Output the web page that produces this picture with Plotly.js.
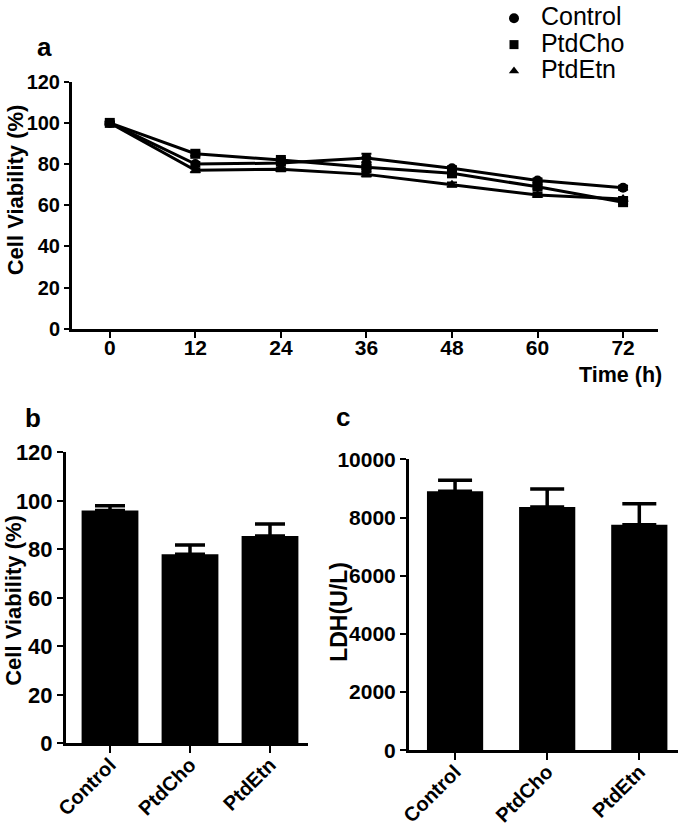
<!DOCTYPE html>
<html><head><meta charset="utf-8">
<script src="https://cdn.plot.ly/plotly-3.0.1.min.js"></script>
<style>body{margin:0;background:#fff}#chart{width:685px;height:830px}</style>
</head><body><div id="chart"></div>
<script>
// Panel a: time course
const timeHours = [0, 12, 24, 36, 48, 60, 72];
const controlViability = [100, 80, 80.5, 83, 78, 72, 68.5];
const controlErr = [0.5, 1, 1, 2, 1, 1, 1];
const ptdChoViability = [100, 85, 82, 78.5, 75.5, 69, 61.5];
const ptdChoErr = [0.5, 1, 1, 1, 1, 1, 1];
const ptdEtnViability = [100, 77, 77.5, 75, 70, 65, 63];
const ptdEtnErr = [0.5, 1, 1, 1, 1, 1, 1];
const seriesNames = ['Control', 'PtdCho', 'PtdEtn'];
const seriesSymbols = ['circle', 'square', 'triangle-up'];

// Panel b and c: bar charts
const groups = ['Control', 'PtdCho', 'PtdEtn'];
const viabilityMean = [96, 78, 85.5];
const viabilityErr = [2, 3.8, 5];
const ldhMean = [8900, 8360, 7750];
const ldhErr = [380, 620, 720];
const xTicksA = [0, 12, 24, 36, 48, 60, 72];

const FONT = 'Liberation Sans, Arial, sans-serif';
const black = '#000';
const ys = [controlViability, ptdChoViability, ptdEtnViability];
const es = [controlErr, ptdChoErr, ptdEtnErr];

const traces = [];
for (let i = 0; i < 3; i++) {
  traces.push({
    x: timeHours, y: ys[i], type: 'scatter', mode: 'lines+markers',
    line: {color: black, width: 3}, marker: {symbol: seriesSymbols[i], size: 10, color: black},
    error_y: {type: 'data', array: es[i], visible: true, color: black, thickness: 2, width: 5},
    showlegend: false, xaxis: 'x', yaxis: 'y', cliponaxis: false
  });
}
for (let i = 0; i < 3; i++) {
  traces.push({
    x: [null], y: [null], type: 'scatter', mode: 'markers',
    name: '<span style="font-size:25px">\u00a0' + seriesNames[i] + '</span>',
    marker: {symbol: seriesSymbols[i], size: i === 0 ? 10 : 9, color: black},
    xaxis: 'x', yaxis: 'y', showlegend: true
  });
}
traces.push({
  x: groups, y: viabilityMean, type: 'bar', marker: {color: black},
  width: 0.71,
  error_y: {type: 'data', symmetric: false, array: viabilityErr, arrayminus: [0, 0, 0], color: black, thickness: 3.5, width: 15},
  xaxis: 'x2', yaxis: 'y2', showlegend: false
});
traces.push({
  x: groups, y: ldhMean, type: 'bar', marker: {color: black},
  width: 0.61,
  error_y: {type: 'data', symmetric: false, array: ldhErr, arrayminus: [0, 0, 0], color: black, thickness: 3.5, width: 17},
  xaxis: 'x3', yaxis: 'y3', showlegend: false
});

const tf = s => ({family: FONT, size: s, color: black, weight: 'bold'});
const axBase = {showline: true, linecolor: black, linewidth: 3, ticks: 'outside', ticklen: 6, tickwidth: 2, tickcolor: black,
  showgrid: false, zeroline: false, fixedrange: true};

const W = 685, H = 830;
const px = v => v / W, py = v => 1 - v / H;
const ann = (text, x, y, font, extra) => Object.assign({text: text, x: px(x), y: py(y), xref: 'paper', yref: 'paper',
  xanchor: 'center', yanchor: 'middle', showarrow: false, font: font}, extra || {});

const layout = {
  width: W, height: H, margin: {l: 0, r: 0, t: 0, b: 0}, paper_bgcolor: '#fff', plot_bgcolor: 'rgba(0,0,0,0)',
  font: {family: FONT, color: black},
  showlegend: true,
  legend: {x: px(494), y: py(-3), xanchor: 'left', yanchor: 'top', font: {family: FONT, size: 18, color: black},
    bgcolor: 'rgba(0,0,0,0)', tracegroupgap: 0, itemwidth: 30},
  xaxis: Object.assign({}, axBase, {domain: [px(72), px(658)], range: [-5.3, 76.9], anchor: 'y', tickvals: xTicksA, ticklen: 6, ticklabelstandoff: -8, tickfont: tf(21)}),
  yaxis: Object.assign({}, axBase, {domain: [py(327), py(79)], range: [0, 120], anchor: 'x', dtick: 20, ticklen: 5, tickfont: tf(20)}),
  xaxis2: Object.assign({}, axBase, {domain: [px(66), px(308)], range: [-0.55, 2.475], anchor: 'y2', tickangle: -45, type: 'category', ticklen: 7, ticklabelstandoff: -8, tickfont: tf(20)}),
  yaxis2: Object.assign({}, axBase, {domain: [py(743), py(451)], range: [0, 120], anchor: 'x2', dtick: 20, tickfont: tf(22)}),
  xaxis3: Object.assign({}, axBase, {domain: [px(409), px(678)], range: [-0.5, 2.42], anchor: 'y3', tickangle: -45, type: 'category', ticklen: 7, ticklabelstandoff: -8, tickfont: tf(20)}),
  yaxis3: Object.assign({}, axBase, {domain: [py(750), py(458)], range: [0, 10000], anchor: 'x3', dtick: 2000, tickformat: 'd', tickfont: tf(21)}),
  annotations: [
    ann('a', 44, 44, tf(26)),
    ann('b', 33, 417, tf(26)),
    ann('c', 343, 416, tf(26)),
    ann('Time (h)', 664, 373, tf(21.5), {xanchor: 'right'}),
    ann('Cell Viability (%)', 15, 188, tf(22), {textangle: -90}),
    ann('Cell Viability (%)', 14, 600, tf(22), {textangle: -90}),
    ann('LDH(U/L)', 339, 611, tf(23), {textangle: -90})
  ]
};
Plotly.newPlot('chart', traces, layout, {staticPlot: true, displayModeBar: false});
</script></body></html>
